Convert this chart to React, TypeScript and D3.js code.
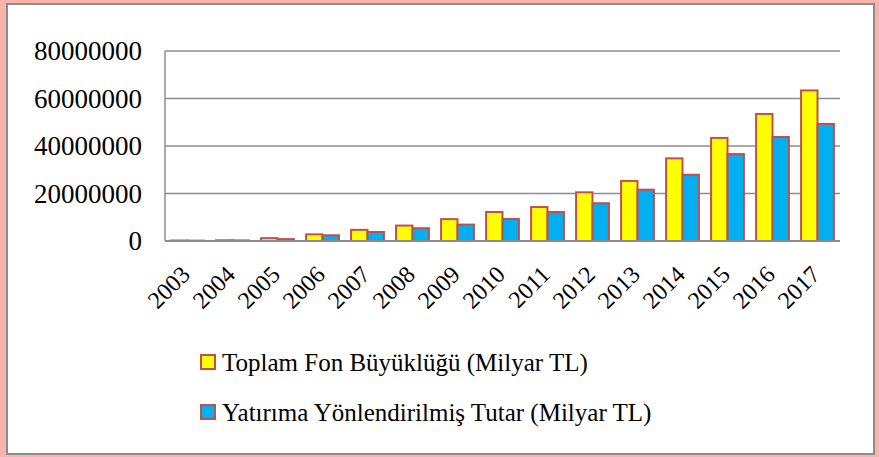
import { useRef, useEffect } from 'react';
import * as d3 from 'd3';

const years = ['2003', '2004', '2005', '2006', '2007', '2008', '2009', '2010', '2011', '2012', '2013', '2014', '2015', '2016', '2017'];
const toplamFon = [200000, 300000, 1200000, 2800000, 4700000, 6500000, 9200000, 12200000, 14300000, 20500000, 25300000, 34800000, 43400000, 53500000, 63400000];
const yatirima = [150000, 250000, 800000, 2400000, 3800000, 5400000, 6900000, 9300000, 12200000, 15900000, 21600000, 27900000, 36600000, 43800000, 49300000];
const yTicks = [0, 20000000, 40000000, 60000000, 80000000];
const seriesNames = ['Toplam Fon Büyüklüğü (Milyar TL)', 'Yatırıma Yönlendirilmiş Tutar (Milyar TL)'];
const seriesColors = ['#FFFF00', '#00B0F0'];

const W = 879;
const H = 457;
const FONT = "'Times New Roman', Times, Tinos, 'Liberation Serif', 'DejaVu Serif', serif";

export default function App() {
  const svgRef = useRef<SVGSVGElement>(null);

  useEffect(() => {
    if (!svgRef.current) return;
    const svg = d3.select(svgRef.current);
    svg.selectAll('*').remove();

    // frame: pink glow + gray border
    svg.append('rect').attr('width', W).attr('height', H).attr('fill', '#f8b4a8');
    svg.append('rect')
      .attr('x', 7).attr('y', 4).attr('width', 867).attr('height', 450)
      .attr('fill', '#ffffff').attr('stroke', '#8c8c8c').attr('stroke-width', 2);

    const margin = { left: 165, right: 39, top: 51, bottom: 216 };
    const innerWidth = W - margin.left - margin.right;
    const innerHeight = H - margin.top - margin.bottom;

    const g = svg.append('g').attr('transform', `translate(${margin.left},${margin.top})`);

    const x0 = d3.scaleBand<string>().domain(years).range([0, innerWidth]).paddingInner(0.27).paddingOuter(0.135);
    const x1 = d3.scaleBand<number>().domain([0, 1]).range([0, x0.bandwidth()]);
    const y = d3.scaleLinear().domain([0, 80000000]).range([innerHeight, 0]);

    // grid lines
    g.append('g')
      .selectAll('line')
      .data(yTicks.slice(1))
      .join('line')
      .attr('x1', 0)
      .attr('x2', innerWidth)
      .attr('y1', (d) => y(d))
      .attr('y2', (d) => y(d))
      .attr('stroke', '#8c8c8c')
      .attr('stroke-width', 1.5);

    // y labels
    g.append('g')
      .selectAll('text')
      .data(yTicks)
      .join('text')
      .attr('x', -23)
      .attr('y', (d) => y(d))
      .attr('dy', '0.35em')
      .attr('text-anchor', 'end')
      .style('font-family', FONT)
      .attr('font-size', 27)
      .attr('fill', '#000')
      .text((d) => String(d));

    // bars
    const series = [toplamFon, yatirima];
    series.forEach((vals, si) => {
      g.append('g')
        .selectAll('rect')
        .data(vals)
        .join('rect')
        .attr('x', (_, i) => (x0(years[i]) ?? 0) + (x1(si) ?? 0))
        .attr('y', (d) => y(d))
        .attr('width', x1.bandwidth())
        .attr('height', (d) => innerHeight - y(d))
        .attr('fill', seriesColors[si])
        .attr('stroke', '#c0504d')
        .attr('stroke-width', 2);
    });

    // axes lines
    g.append('line').attr('x1', 0).attr('x2', 0).attr('y1', 0).attr('y2', innerHeight)
      .attr('stroke', '#8c8c8c').attr('stroke-width', 1.5);
    g.append('line').attr('x1', 0).attr('x2', innerWidth).attr('y1', innerHeight).attr('y2', innerHeight)
      .attr('stroke', '#8c8c8c').attr('stroke-width', 2);

    // x labels
    g.append('g')
      .selectAll('text')
      .data(years)
      .join('text')
      .attr('transform', (d) => `translate(${(x0(d) ?? 0) + x0.bandwidth() / 2 + 4},${innerHeight + 35}) rotate(-45)`)
      .attr('text-anchor', 'end')
      .style('font-family', FONT)
      .attr('font-size', 24)
      .attr('fill', '#000')
      .text((d) => d);

    // legend
    const legend = svg.append('g');
    seriesNames.forEach((name, i) => {
      const ly = 355 + i * 50;
      legend.append('rect')
        .attr('x', 201).attr('y', ly).attr('width', 14).attr('height', 14)
        .attr('fill', seriesColors[i]).attr('stroke', '#c0504d').attr('stroke-width', 2);
      legend.append('text')
        .attr('x', 222).attr('y', ly + 16)
        .style('font-family', FONT)
        .attr('font-size', 25)
        .attr('fill', '#000')
        .text(name);
    });
  }, []);

  return (
    <svg
      ref={svgRef}
      width={W}
      height={H}
      style={{ position: 'absolute', left: 0, top: 0, display: 'block' }}
    />
  );
}
